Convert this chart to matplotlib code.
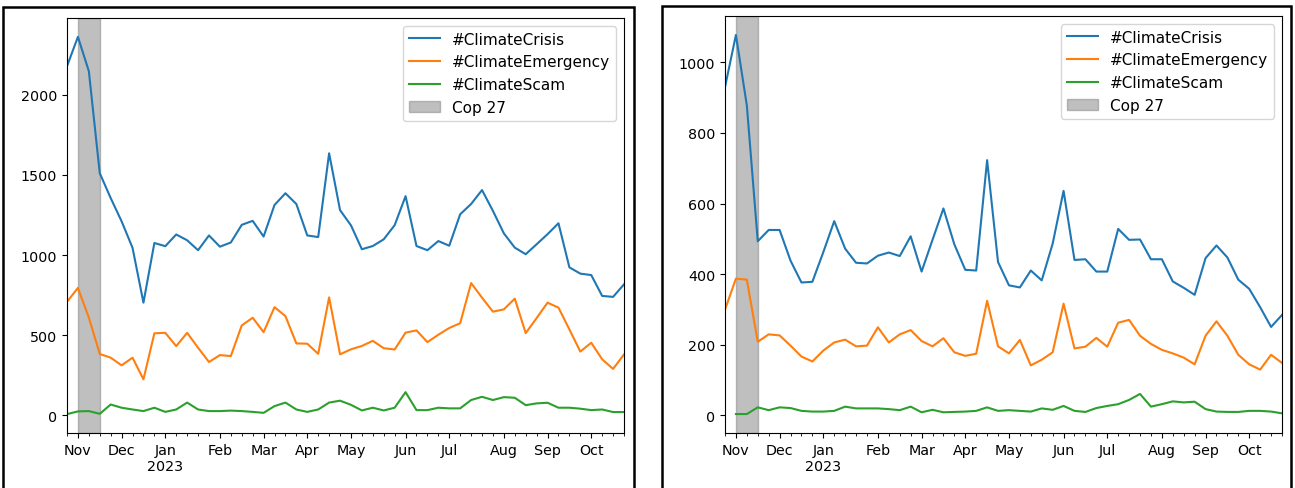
import numpy as np
import pandas as pd
import matplotlib
matplotlib.use("Agg")
import matplotlib.pyplot as plt
from matplotlib.patches import Rectangle
from matplotlib.ticker import FixedLocator, FixedFormatter

# weekly periods, labelled by their Monday
weeks = pd.date_range("2022-10-31", periods=52, freq="7D")

labels = ["#ClimateCrisis", "#ClimateEmergency", "#ClimateScam"]
cop_start, cop_end = pd.Timestamp("2022-11-07"), pd.Timestamp("2022-11-21")

# left chart
crisis_a = [2177, 2360, 2146, 1510, 1355, 1210, 1045, 703, 1075, 1055,
            1128, 1092, 1030, 1122, 1052, 1078, 1188, 1213, 1115, 1312,
            1385, 1318, 1122, 1112, 1634, 1280, 1185, 1036, 1056, 1098,
            1186, 1367, 1056, 1030, 1087, 1058, 1254, 1318, 1405, 1275,
            1135, 1046, 1005, 1067, 1130, 1198, 923, 884, 875, 745,
            739, 817]
emergency_a = [708, 795, 610, 383, 360, 312, 360, 225, 512, 515,
               432, 515, 422, 333, 376, 370, 561, 609, 519, 675,
               619, 449, 447, 384, 736, 381, 412, 433, 465, 419,
               411, 516, 530, 457, 503, 545, 575, 825, 734, 647,
               661, 728, 513, 607, 703, 672, 536, 398, 453, 350,
               290, 380]
scam_a = [8, 25, 27, 10, 68, 48, 37, 27, 48, 22,
          37, 80, 37, 27, 27, 30, 27, 22, 16, 58,
          80, 37, 22, 37, 80, 92, 66, 31, 48, 31,
          48, 145, 33, 33, 48, 44, 44, 96, 116, 96,
          114, 110, 64, 75, 79, 48, 48, 42, 33, 37,
          21, 21]

# right chart
crisis_b = [930, 1078, 878, 493, 525, 525, 438, 376, 378, 462,
            550, 472, 432, 430, 452, 461, 451, 507, 407, 497,
            586, 484, 412, 410, 723, 434, 368, 362, 410, 382,
            486, 636, 440, 442, 407, 407, 528, 497, 498, 442,
            442, 379, 361, 341, 445, 481, 447, 384, 358, 306,
            250, 284]
emergency_b = [299, 387, 384, 208, 229, 226, 197, 166, 152, 183,
               206, 214, 195, 197, 249, 206, 229, 241, 210, 195,
               218, 178, 168, 174, 324, 195, 175, 213, 141, 157,
               178, 316, 189, 194, 219, 194, 262, 270, 225, 202,
               185, 175, 163, 144, 225, 266, 225, 171, 144, 129,
               171, 148]
scam_b = [np.nan, 3, 3, 22, 14, 22, 20, 12, 10, 10,
          12, 24, 19, 19, 19, 17, 14, 24, 8, 15,
          8, 9, 10, 12, 22, 12, 14, 12, 10, 19,
          15, 26, 12, 9, 20, 26, 31, 43, 60, 24,
          31, 39, 36, 38, 17, 10, 9, 9, 12, 12,
          10, 5]

plt.rcParams["font.size"] = 10

fig = plt.figure(figsize=(12.95, 4.89), dpi=100)
W, H = 1295, 489


def draw(ax, series):
    for vals, lab in zip(series, labels):
        ax.plot(weeks, vals, label=lab)
    ax.axvspan(cop_start, cop_end, color="grey", alpha=0.5, label="Cop 27")
    ax.set_xlim(weeks[0], weeks[-1])
    # month ticks at the first week starting in a new month
    major = [d for i, d in enumerate(weeks) if i > 0 and d.month != weeks[i - 1].month]
    names = [d.strftime("%b\n%Y") if d.month == 1 else d.strftime("%b") for d in major]
    ax.xaxis.set_major_locator(FixedLocator(matplotlib.dates.date2num(major)))
    ax.xaxis.set_major_formatter(FixedFormatter(names))
    ax.xaxis.set_minor_locator(FixedLocator(matplotlib.dates.date2num(weeks)))
    ax.tick_params(labelsize=10.3)
    ax.legend(loc="upper right", fontsize=11)


ax1 = fig.add_axes([67 / W, 1 - 434 / H, 557 / W, 415 / H])
draw(ax1, [crisis_a, emergency_a, scam_a])
ax2 = fig.add_axes([725 / W, 1 - 434 / H, 557 / W, 417 / H])
draw(ax2, [crisis_b, emergency_b, scam_b])

# frames around each saved chart
for x0, x1, top in [(3, 634, 8), (662, 1291, 7)]:
    fig.add_artist(Rectangle((x0 / W, -0.1), (x1 - x0) / W, 1.1 - top / H,
                             transform=fig.transFigure, fill=False,
                             edgecolor="black", linewidth=1.8, clip_on=False))

fig.savefig("out.png", dpi=100)
